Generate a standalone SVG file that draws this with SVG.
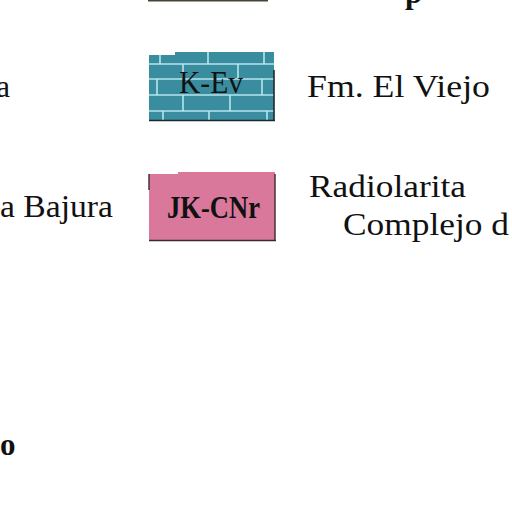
<svg xmlns="http://www.w3.org/2000/svg" width="512" height="512" viewBox="0 0 512 512">
<style>
.t{font-family:'Liberation Serif',Tinos,'Times New Roman',Times,serif;font-size:31px;fill:#111}
.b{font-weight:bold}
.brick{stroke:#b4e6ee;stroke-width:1.6;fill:none}
</style>
<rect width="512" height="512" fill="#fff"/>
<g id="top-item">
<rect x="148" y="-2" width="120" height="3.5" fill="#4a4236"/>
<text class="t b" font-family="Liberation Serif" x="405" y="3">p</text>
</g>
<g id="left-labels">
<text class="t" font-family="Liberation Serif" x="10" y="97" text-anchor="end">a</text>
<text class="t" font-family="Liberation Serif" x="0" y="217" textLength="113" lengthAdjust="spacingAndGlyphs">a Bajura</text>
<text class="t b" font-family="Liberation Serif" x="0" y="455">o</text>
</g>
<g id="K-Ev">
<path d="M149 55 L175 55 L175 52 L274 52 L274 120 L149 120 Z" fill="#3a8d9e"/>
<g class="brick">
<path d="M149 64H274M149 79H274M149 95H274M149 111H274"/>
<path d="M160 55V64M208 52V64M264 52V64"/>
<path d="M183 64V79M238 64V79"/>
<path d="M157 79V95M262 79V95"/>
<path d="M183 95V111M230 95V111"/>
<path d="M163 111V120M209 111V120M267 111V120"/>
</g>
<path d="M274 70V121M149 120.5H275" stroke="#1e2a2e" stroke-width="1.6"/>
<text class="t" font-family="Liberation Serif" x="179" y="93" textLength="64" lengthAdjust="spacingAndGlyphs">K-Ev</text>
<text class="t" font-family="Liberation Serif" x="307" y="97" textLength="183" lengthAdjust="spacingAndGlyphs">Fm. El Viejo</text>
</g>
<g id="JK-CNr">
<path d="M149 174 L178 174 L178 172 L275 172 L275 240 L149 240 Z" fill="#da789b"/>
<path d="M275 174V241M149 240.5H276M149 174V190" stroke="#3a2a30" stroke-width="1.4" fill="none"/>
<text class="t b" font-family="Liberation Serif" x="167" y="218" textLength="93" lengthAdjust="spacingAndGlyphs">JK-CNr</text>
<text class="t" font-family="Liberation Serif" x="309" y="197" textLength="157" lengthAdjust="spacingAndGlyphs">Radiolarita</text>
<text class="t" font-family="Liberation Serif" x="343" y="235" textLength="166" lengthAdjust="spacingAndGlyphs">Complejo d</text>
</g>
</svg>
